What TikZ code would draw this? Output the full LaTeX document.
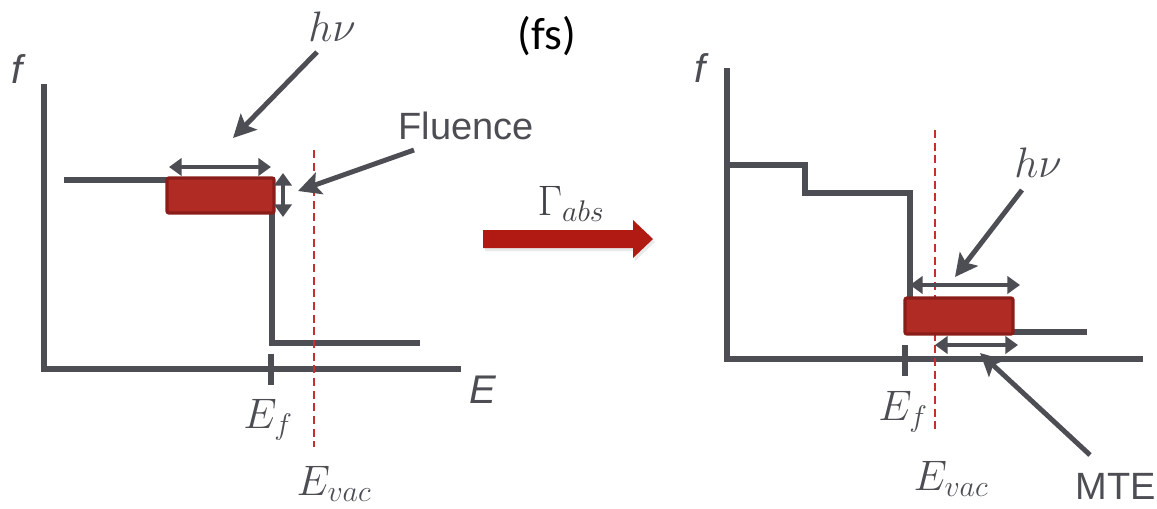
\RequirePackage{fix-cm}
\documentclass[tikz,border=0pt]{standalone}
\usepackage{fontspec}
\setmainfont{Liberation Sans}
\newfontfamily\calib{Carlito}
\usetikzlibrary{arrows.meta}
\definecolor{lg}{HTML}{4C4E54}
\definecolor{boxfill}{HTML}{B12B25}
\definecolor{boxline}{HTML}{8A1D18}
\definecolor{vacred}{HTML}{C4302B}
\definecolor{bigred}{HTML}{B01A12}
\tikzset{
  curve/.style={draw=lg, line width=4pt, line join=miter},
  tickmark/.style={draw=lg, line width=4.6pt},
  band/.style={fill=boxfill, draw=boxline, line width=2.4pt, rounded corners=1.5pt},
  vacline/.style={draw=vacred, line width=1.3pt, dash pattern=on 6pt off 3.5pt},
  dbl/.style={draw=lg, line width=3.1pt, {Triangle[length=9.5pt,width=13pt]}-{Triangle[length=9.5pt,width=13pt]}},
  pointer/.style={draw=lg, line width=3.7pt, -{Stealth[length=17pt,width=17pt,inset=3.5pt]}},
  mathlbl/.style={text=lg, font=\fontsize{32}{34}\selectfont, inner sep=0pt},
  sanslbl/.style={text=lg, font=\fontsize{28.5}{30}\selectfont, inner sep=0pt},
  axlbl/.style={text=lg, font=\fontsize{30}{32}\selectfont\itshape, inner sep=0pt}
}
\begin{document}
\begin{tikzpicture}[x=0.75pt,y=-0.75pt]
\path[use as bounding box] (0,0) rectangle (1157,508);

% ---------------- left panel ----------------
\draw[curve] (44,84) -- (44,369) -- (461,369);
\draw[curve] (64,180) -- (272,180) -- (272,343) -- (420,343);
\draw[tickmark] (271,354) -- (271,385);
\draw[vacline] (314,150) -- (314,447);
\path[band] (167,178) rectangle (274,213);

\coordinate (hL1) at (169,167);
\coordinate (hL2) at (271,167);
\draw[dbl] (hL1) -- (hL2);
\coordinate (vL1) at (283,173);
\coordinate (vL2) at (283,217);
\draw[dbl] (vL1) -- (vL2);

\node[axlbl] (fL) at (17,69) {f};
\node[axlbl] (EL) at (483,390) {E};
\node[mathlbl] (EfL) at (268,420) {$E_f$};
\node[mathlbl] (EvacL) at (334,484) {$E_{vac}$};
\node[mathlbl] (hnuL) at (332,27) {$h\nu$};
\node[sanslbl] (flu) at (466,126) {Fluence};
\node[font=\calib\fontsize{34}{36}\selectfont, inner sep=0pt] (fs) at (547,36) {(fs)};

\coordinate (hnuLt) at (317,52);
\coordinate (hnuLh) at (233,138);
\draw[pointer] (hnuLt) -- (hnuLh);
\coordinate (fluT) at (414,150);
\coordinate (fluH) at (298,191);
\draw[pointer] (fluT) -- (fluH);

% ---------------- middle arrow ----------------
\node[text=lg!85!black, font=\fontsize{32}{34}\selectfont, inner sep=0pt] (gam) at (571,204) {$\Gamma_{abs}$};
\fill[lg!25, opacity=0.5] (485,233) -- (635,233) -- (635,223) -- (655,242) -- (635,261) -- (635,251) -- (485,251) -- cycle;
\fill[bigred] (483,230) -- (633,230) -- (633,220) -- (653,239) -- (633,258) -- (633,248) -- (483,248) -- cycle;

% ---------------- right panel ----------------
\draw[curve] (727,68) -- (727,359) -- (1143,359);
\draw[curve] (727,165) -- (805,165) -- (805,193) -- (910,193) -- (910,315);
\draw[curve] (1010,332) -- (1087,332);
\draw[tickmark] (905,345) -- (905,376);
\draw[vacline] (935,130) -- (935,430);
\path[band] (905,298) rectangle (1013,334);

\coordinate (hR1) at (910,285);
\coordinate (hR2) at (1020,285);
\draw[dbl] (hR1) -- (hR2);
\coordinate (mR1) at (935,345);
\coordinate (mR2) at (1018,345);
\draw[dbl] (mR1) -- (mR2);

\node[axlbl] (fR) at (700,68) {f};
\node[mathlbl] (hnuR) at (1038,163) {$h\nu$};
\node[mathlbl] (EfR) at (903,412) {$E_f$};
\node[mathlbl] (EvacR) at (951,479) {$E_{vac}$};
\node[sanslbl] (mte) at (1116,486) {MTE};

\coordinate (hnuRt) at (1022,190);
\coordinate (hnuRh) at (955,277);
\draw[pointer] (hnuRt) -- (hnuRh);
\coordinate (mteT) at (1090,455);
\coordinate (mteH) at (980,353);
\draw[pointer] (mteT) -- (mteH);
\end{tikzpicture}
\end{document}
